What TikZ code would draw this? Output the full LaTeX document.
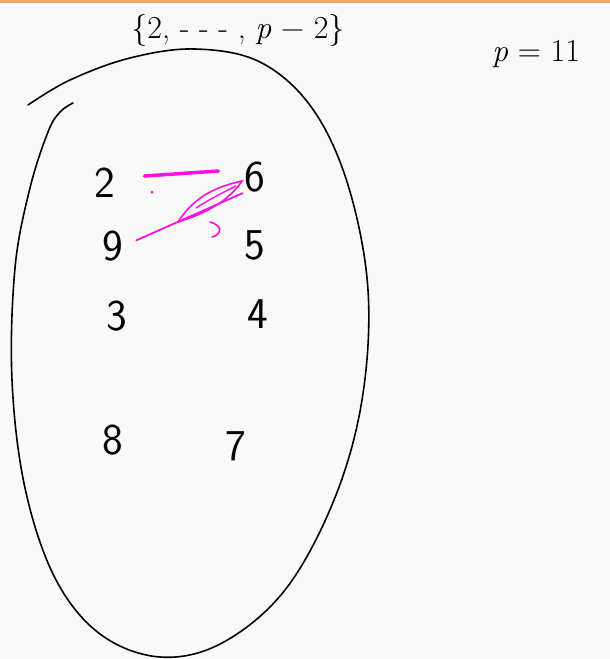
\documentclass[tikz,border=0pt]{standalone}
\usepackage{fontspec}

\definecolor{paper}{HTML}{F9F9F9}
\definecolor{ink}{HTML}{000000}
\definecolor{pen}{HTML}{FF10E0}
\definecolor{rule}{HTML}{F0A866}

\begin{document}
\begin{tikzpicture}[x=1pt, y=-1pt,
    digit/.style={font=\sffamily\fontsize{44}{48}\selectfont, inner sep=0pt, text=ink},
    note/.style={font=\fontsize{32}{36}\selectfont, inner sep=0pt, text=ink},
    link/.style={pen, line width=3.5pt, line cap=round}]

% ---- Page and top rule ----
\fill[paper] (0,0) rectangle (610,659);
\useasboundingbox (0,0) rectangle (610,659);
\fill[rule] (0,0) rectangle (610,3);

% ---- Headings ----
\node[note] (range) at (238,30) {\{2, - - - , \textit{p} − 2\}};
\node[note, anchor=west] (prime) at (492,54) {\textit{p} = 11};

% ---- The set (open loop drawn by hand) ----
\draw[ink, line width=1.6pt, line cap=round] plot[smooth, tension=0.6] coordinates {
    (28,105) (70,80) (130,58) (195,49) (260,62) (312,108) (348,185)
    (368,290) (362,400) (334,500) (285,590) (222,643) (160,657)
    (100,634) (55,578) (25,488) (12,380) (15,268) (30,188) (48,132)
    (60,112) (73,103)};

% ---- Elements ----
\foreach \name/\px/\py in {
    2/105/183, 6/255/177, 9/113/246, 5/255/245,
    3/117/316, 4/258/314, 8/113/440, 7/236/446
}{
    \node[digit] (n\name) at (\px,\py) {\name};
}

% ---- Pairs (pink strokes) ----
\draw[link] ([xshift=29pt, yshift=-8pt]n2.north east) -- ([xshift=-26pt, yshift=6pt]n6.west);
\draw[link, line width=1.8pt, shorten <=14pt, shorten >=2pt] (n9.east) -- (n6.south west);
\draw[pen, line width=1.6pt, line cap=round]
    (178,222) .. controls (196,194) and (220,186) .. (242,181)
              .. controls (228,202) and (204,214) .. (178,222);
\draw[pen, line width=1.4pt, line cap=round]
    (196,208) .. controls (210,199) and (222,193) .. (236,186);
\fill[pen] (152,192) circle (1.5pt);
\draw[pen, line width=1.6pt, line cap=round]
    (210,222) .. controls (222,225) and (223,234) .. (212,237);

\end{tikzpicture}
\end{document}
